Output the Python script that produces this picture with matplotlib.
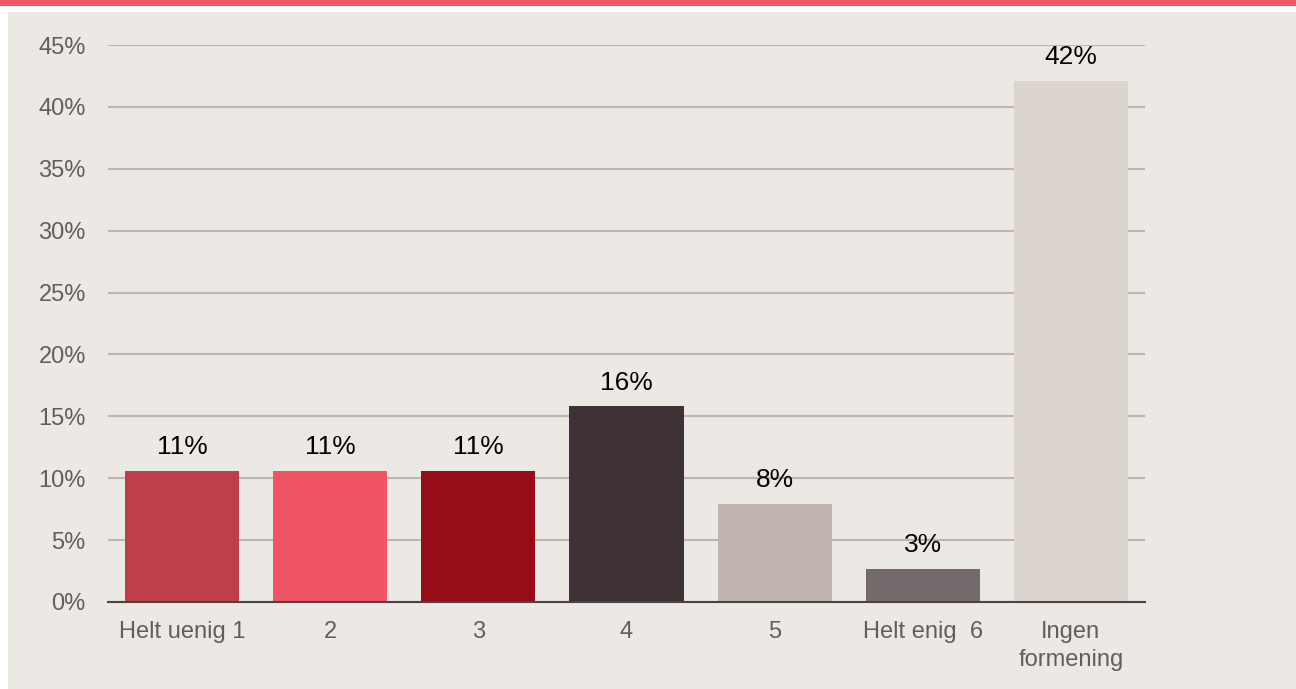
import matplotlib
matplotlib.use("Agg")
import matplotlib.pyplot as plt
from matplotlib.patches import Rectangle

plt.rcParams["font.family"] = ["Liberation Sans", "DejaVu Sans"]

categories = ["Helt uenig 1", "2", "3", "4", "5", "Helt enig  6", "Ingen\nformening"]
values = [10.6, 10.6, 10.6, 15.8, 7.9, 2.7, 42.1]
labels = ["11%", "11%", "11%", "16%", "8%", "3%", "42%"]
colors = ["#BE3F4B", "#F15464", "#960C18", "#3E3236", "#BFB4AF", "#746A6C", "#DCD5CF"]
yticks = [0, 5, 10, 15, 20, 25, 30, 35, 40, 45]

W, H = 1296, 689
fig = plt.figure(figsize=(W / 100, H / 100), dpi=100)
fig.patch.set_facecolor("white")

# beige panel, red band on top
fig.add_artist(Rectangle((8 / W, 0), 1 - 8 / W, 1 - 12 / H, transform=fig.transFigure,
                         facecolor="#ECE8E3", edgecolor="none", zorder=-2))
fig.add_artist(Rectangle((0, 1 - 6 / H), 1, 6 / H, transform=fig.transFigure,
                         facecolor="#F15464", edgecolor="none", zorder=-1))

ax = fig.add_axes([108 / W, (H - 602) / H, (1145 - 108) / W, (602 - 45) / H])
ax.set_facecolor("none")

x = range(len(categories))
ax.bar(x, values, width=0.77, color=colors, zorder=3)
for i, (v, lab) in enumerate(zip(values, labels)):
    ax.text(i, v + 0.95, lab, ha="center", va="bottom", fontsize=19, color="black", zorder=4)

ax.set_xlim(-0.5, len(categories) - 0.5)
ax.set_ylim(0, 45)
ax.set_yticks(yticks)
ax.set_yticklabels([f"{t}%" for t in yticks])
ax.set_xticks(list(x))
ax.set_xticklabels(categories, linespacing=1.3)
ax.tick_params(axis="both", length=0, labelsize=17, labelcolor="#5F5F5F")
ax.tick_params(axis="y", pad=16)
ax.tick_params(axis="x", pad=14)

ax.grid(axis="y", color="#C0B6B0", lw=1.5, zorder=0)
for s in ["top", "right", "left"]:
    ax.spines[s].set_visible(False)
ax.spines["bottom"].set_color("#4E4244")
ax.spines["bottom"].set_linewidth(1.5)
ax.spines["bottom"].set_zorder(5)

fig.savefig("out.png", dpi=100)
